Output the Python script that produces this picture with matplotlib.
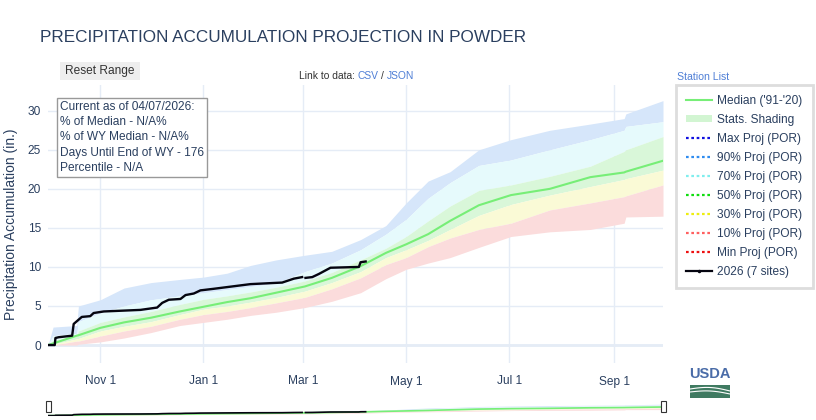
import numpy as np
import pandas as pd
import matplotlib
matplotlib.use("Agg")
import matplotlib.pyplot as plt
import matplotlib.dates as mdates
from matplotlib.lines import Line2D
from matplotlib.patches import Patch, Rectangle

plt.rcParams['font.family'] = ['Liberation Sans', 'DejaVu Sans']

W, H = 816, 420
TXT = '#2a3f5f'
LINK = '#4f7fd6'

# water year 2026, days counted from Oct 1
wy_start = pd.Timestamp('2025-10-01')
wy_end = pd.Timestamp('2026-09-30')

# stats (period of record)
stat_days = [0, 3, 17, 18, 31, 45, 61, 78, 92, 106, 120, 135, 152, 168, 185,
             200, 212, 225, 238, 255, 274, 297, 321, 341, 342, 364]
max_por = [0, 2.3, 2.5, 5.0, 5.8, 7.3, 8.0, 8.4, 8.7, 9.2, 10.2, 10.9, 11.5, 12.0, 13.5,
           15.3, 18.2, 21.0, 22.2, 25.0, 26.3, 27.5, 28.3, 29.0, 29.6, 31.3]
p90 = [0, 1.2, 1.5, 3.0, 4.1, 5.0, 5.8, 6.3, 6.7, 7.1, 7.5, 7.9, 9.4, 10.5, 12.2,
       14.2, 16.1, 18.8, 20.8, 23.0, 23.7, 25.0, 26.3, 27.5, 28.0, 28.6]
p70 = [0, 0.6, 1.2, 1.8, 2.9, 3.6, 4.3, 5.2, 5.85, 6.3, 6.8, 7.4, 8.2, 9.3, 10.9,
       12.4, 13.9, 15.9, 17.8, 19.8, 20.5, 21.6, 22.9, 24.8, 25.0, 26.7]
median = [0, 0.2, 1.2, 1.25, 2.2, 2.9, 3.5, 4.3, 4.9, 5.5, 6.0, 6.7, 7.5, 8.6, 10.1,
          11.8, 12.9, 14.2, 15.9, 17.9, 19.2, 20.0, 21.5, 22.1, 22.2, 23.6]
p30 = [0, 0.1, 0.8, 0.85, 1.8, 2.4, 3.0, 3.9, 4.6, 5.0, 5.5, 6.1, 6.9, 8.0, 9.4,
       11.2, 12.2, 13.4, 14.8, 16.6, 18.0, 19.2, 20.3, 21.2, 21.3, 22.4]
p10 = [0, 0, 0.5, 0.5, 1.15, 1.8, 2.4, 3.3, 3.9, 4.3, 4.8, 5.4, 6.1, 7.2, 8.6,
       10.3, 11.2, 12.6, 13.7, 14.8, 15.6, 17.3, 18.2, 19.0, 19.1, 20.5]
min_por = [0, 0, 0, 0.1, 0.4, 0.9, 1.6, 2.5, 2.9, 3.3, 3.8, 4.2, 4.8, 5.6, 6.7,
           8.5, 9.7, 10.5, 11.2, 12.5, 13.9, 14.5, 14.8, 15.6, 16.4, 16.5]

# 2026 accumulation (7 sites), gap at Mar 1
cur_days = [0, 4, 4.4, 6.3, 14.3, 15.2, 20, 25, 27, 33, 54.7, 64.6, 67.6, 71.5, 78.4,
            81.4, 86.3, 90.2, 98, 119.8, 138.6, 145.5, 150.4, 151, 152.4, 156.4, 160.3,
            167.2, 184, 185, 188]
cur_vals = [0, 0, 0.9, 1.0, 1.2, 2.7, 3.6, 3.7, 4.1, 4.3, 4.5, 4.8, 5.4, 5.8, 5.9,
            6.4, 6.6, 7.0, 7.2, 7.8, 8.0, 8.5, 8.7, np.nan, 8.6, 8.7, 9.1,
            9.9, 10.0, 10.6, 10.7]

stat_x = wy_start + pd.to_timedelta(stat_days, unit='D')
cur_x = wy_start + pd.to_timedelta(cur_days, unit='D')

bands = [
    (max_por, p90, '#d6e6fa'),
    (p90, p70, '#e6fafc'),
    (p70, p30, '#d9f7d9'),
    (p30, p10, '#fafad6'),
    (p10, min_por, '#fbdcdc'),
]


def fig_xy(x, y):
    return x / W, 1 - y / H


def draw_traces(a, lw_med, lw_cur):
    for top, bot, col in bands:
        a.fill_between(stat_x, bot, top, color=col, lw=0)
    a.plot(stat_x, median, color='#77ee77', lw=lw_med)
    a.plot(cur_x, cur_vals, color='#050510', lw=lw_cur)


fig = plt.figure(figsize=(W / 100, H / 100), dpi=100)
ax = fig.add_axes([48 / W, 1 - 363 / H, (663 - 48) / W, (363 - 85) / H])

draw_traces(ax, 1.5, 1.7)

ax.set_xlim(wy_start, wy_end)
ax.set_ylim(-2.3, 33.3)
ax.set_yticks([0, 5, 10, 15, 20, 25, 30])
ax.xaxis.set_major_locator(mdates.MonthLocator(bymonth=[11, 1, 3, 5, 7, 9]))
ax.xaxis.set_major_formatter(mdates.DateFormatter('%b %-d'))
ax.grid(True, color='#e5ecf6', lw=1)
ax.axhline(0, color='#e5ecf6', lw=2, zorder=0.5)
ax.set_axisbelow(True)
for s in ax.spines.values():
    s.set_visible(False)
ax.tick_params(length=0, labelsize=8.6, labelcolor=TXT)
ax.tick_params(axis='x', pad=9)
ax.tick_params(axis='y', pad=5)

fig.text(*fig_xy(11, 224), 'Precipitation Accumulation (in.)', rotation=90,
         ha='center', va='center', fontsize=10, color=TXT)

fig.text(*fig_xy(40, 38), 'PRECIPITATION ACCUMULATION PROJECTION IN POWDER',
         ha='left', va='center', fontsize=12.3, color=TXT)

# info box
fig.text(*fig_xy(60, 101),
         'Current as of 04/07/2026:\n% of Median - N/A%\n% of WY Median - N/A%\n'
         'Days Until End of WY - 176\nPercentile - N/A',
         ha='left', va='top', fontsize=8.6, color=TXT, linespacing=1.36,
         bbox=dict(boxstyle='square,pad=0.25', fc='white', ec='#999999', lw=1))

# reset button
fig.patches.append(Rectangle(fig_xy(60, 80), 80 / W, 18 / H, transform=fig.transFigure,
                             fc='#eeeeee', ec='none'))
fig.text(*fig_xy(100, 71), 'Reset Range', ha='center', va='center', fontsize=8.6, color='#333333')

# data links
fig.text(*fig_xy(299, 76), 'Link to data:', ha='left', va='center', fontsize=7.4, color='#333333')
fig.text(*fig_xy(357, 76), 'CSV', ha='left', va='center', fontsize=7.4, color=LINK)
fig.text(*fig_xy(381, 76), '/', ha='left', va='center', fontsize=7.4, color='#333333')
fig.text(*fig_xy(387, 76), 'JSON', ha='left', va='center', fontsize=7.4, color=LINK)
fig.text(*fig_xy(677, 77), 'Station List', ha='left', va='center', fontsize=7.6, color=LINK)

# legend
dot = (0, (1.2, 1.2))
handles = [
    Line2D([], [], color='#77ee77', lw=1.5),
    Patch(fc='#d2f5d2', ec='none'),
    Line2D([], [], color='#1010e0', lw=1.6, ls=dot),
    Line2D([], [], color='#2f8cf0', lw=1.6, ls=dot),
    Line2D([], [], color='#80eeee', lw=1.6, ls=dot),
    Line2D([], [], color='#10dd10', lw=1.6, ls=dot),
    Line2D([], [], color='#eeee10', lw=1.6, ls=dot),
    Line2D([], [], color='#ff6060', lw=1.6, ls=dot),
    Line2D([], [], color='#ee1010', lw=1.6, ls=dot),
    Line2D([], [], color='#050510', lw=1.6, marker='o', ms=1.5),
]
labels = ["Median ('91-'20)", 'Stats. Shading', 'Max Proj (POR)', '90% Proj (POR)',
          '70% Proj (POR)', '50% Proj (POR)', '30% Proj (POR)', '10% Proj (POR)',
          'Min Proj (POR)', '2026 (7 sites)']
leg = ax.legend(handles, labels, loc='upper left', bbox_to_anchor=fig_xy(676, 85),
                bbox_transform=fig.transFigure, borderaxespad=0, fancybox=False,
                edgecolor='#dddddd', fontsize=8.6, labelcolor=TXT, handlelength=2.2,
                handleheight=0.5, handletextpad=0.4, labelspacing=0.58, borderpad=0.85,
                framealpha=1)
leg.get_frame().set_linewidth(2)

# range slider thumbnail
rs = fig.add_axes([48 / W, 1 - 416 / H, (663 - 48) / W, 15 / H])
draw_traces(rs, 1.2, 1.2)
rs.set_xlim(wy_start, wy_end)
rs.set_ylim(-1, 40)
rs.set_xticks([])
rs.set_yticks([])
for s in rs.spines.values():
    s.set_visible(False)
for hx in (48, 663):
    fig.patches.append(Rectangle(fig_xy(hx - 2.5, 412), 5 / W, 11 / H, transform=fig.transFigure,
                                 fc='white', ec='#333333', lw=0.8))

# USDA mark
lg = fig.add_axes([690 / W, 1 - 398 / H, 40 / W, 31 / H])
lg.set_xlim(0, 40)
lg.set_ylim(0, 31)
lg.axis('off')
lg.text(20, 24, 'USDA', ha='center', va='center', fontsize=10.5, color='#4a6ca8',
        fontweight='bold', family=['Liberation Sans Narrow', 'Liberation Sans'])
lg.add_patch(Rectangle((0, 0), 40, 13, fc='#3f7a61', ec='none'))
cx = np.linspace(0, 40, 30)
lg.plot(cx, 9 + 2.5 * np.sin(cx / 40 * np.pi) - cx * 0.05, color='white', lw=0.8)
lg.plot(cx, 6 + 2.0 * np.sin(cx / 40 * np.pi) - cx * 0.05, color='white', lw=0.8)

fig.savefig('out.png', dpi=100)
